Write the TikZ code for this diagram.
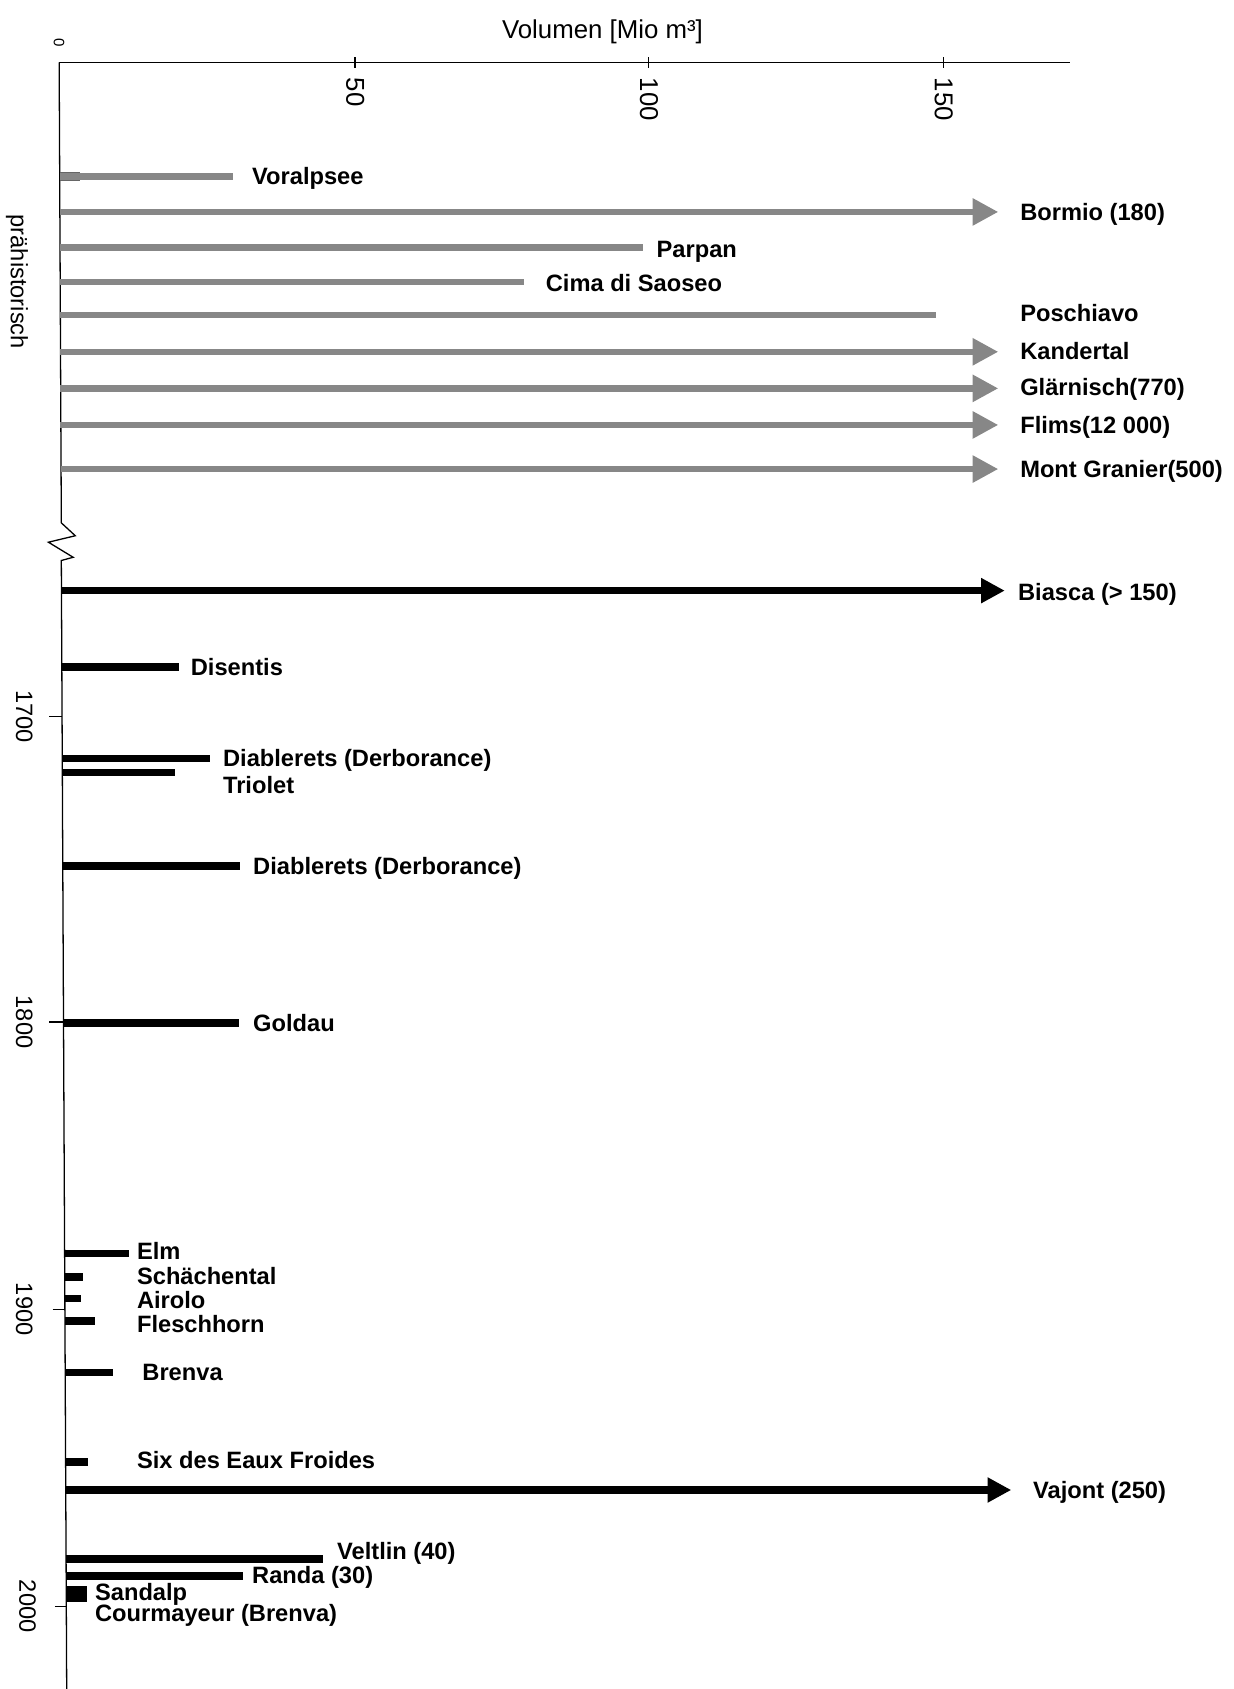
\documentclass[tikz,border=0pt]{standalone}
\usepackage{fontspec}
\setmainfont{Liberation Sans}
\usetikzlibrary{arrows.meta}

\tikzset{
  prebar/.style={draw=black!47, line width=3pt},
  histbar/.style={draw=black, line width=3.4pt},
  barhead/.style={-{Triangle[length=12pt,width=12pt]}},
  lbl/.style={anchor=west, inner sep=0pt, text height=7.9pt, text depth=0pt, font=\bfseries\fontsize{11}{13}\selectfont},
  ticklbl/.style={rotate=-90, anchor=west, inner sep=0pt, text height=8pt, text depth=0pt, font=\fontsize{12}{14}\selectfont},
  yearlbl/.style={rotate=-90, inner sep=0pt, text height=8pt, text depth=0pt, font=\fontsize{11}{13}\selectfont},
}

\begin{document}
\begin{tikzpicture}[x=0.5pt,y=-0.5pt]
                \useasboundingbox (0,0) rectangle (1147,1570);

                \coordinate (axtop) at (55,58);
                \coordinate (axend) at (995,58);
                \coordinate (axbot) at (62,1570);

                \draw[line width=0.6pt] (axtop) -- (axend);
                \draw[line width=0.6pt] (axtop) -- (57,486) -- (70,498) -- (45,504) -- (68,518) -- (57,521) -- (axbot);

                \node[font=\fontsize{12}{14}\selectfont] (title) at (560,30) {Volumen [Mio m³]};
                \node[rotate=-90, inner sep=0pt, font=\fontsize{7}{8}\selectfont] (t0) at (55,40) {0};
                \draw[line width=0.6pt] (330,53) -- (330,63);
                \node[ticklbl] (t50) at (330,72) {50};
                \draw[line width=0.6pt] (603,53) -- (603,63);
                \node[ticklbl] (t100) at (603,72) {100};
                \draw[line width=0.6pt] (877,53) -- (877,63);
                \node[ticklbl] (t150) at (877,72) {150};

                \node[yearlbl] (prae) at (18,262) {prähistorisch};
                \draw[line width=0.6pt] (46,666) -- (58,666);
                \node[yearlbl] (y1700) at (23,666) {1700};
                \draw[line width=0.6pt] (46,950) -- (59,950);
                \node[yearlbl] (y1800) at (23,950) {1800};
                \draw[line width=0.6pt] (49,1217) -- (60,1217);
                \node[yearlbl] (y1900) at (23,1217) {1900};
                \draw[line width=0.6pt] (51,1493) -- (61,1493);
                \node[yearlbl] (y2000) at (26,1493) {2000};

                \draw[draw=black!60, line width=4pt] (56,164) -- (74,164);
                \draw[prebar] (56,164) -- (217,164);
                \node[lbl] (voralpsee) at (234,164) {Voralpsee};
                \draw[prebar, barhead] (56,197) -- (928,197);
                \node[lbl] (bormio) at (948,197) {Bormio (180)};
                \draw[prebar] (56,230) -- (598,230);
                \node[lbl] (parpan) at (610,231) {Parpan};
                \draw[prebar] (56,262) -- (487,262);
                \node[lbl] (saoseo) at (507,263) {Cima di Saoseo};
                \draw[prebar] (56,293) -- (870,293);
                \node[lbl] (poschiavo) at (948,291) {Poschiavo};
                \draw[prebar, barhead] (56,327) -- (928,327);
                \node[lbl] (kandertal) at (948,326) {Kandertal};
                \draw[prebar, barhead] (56,361) -- (928,361);
                \node[lbl] (glaernisch) at (948,360) {Glärnisch(770)};
                \draw[prebar, barhead] (56,395) -- (928,395);
                \node[lbl] (flims) at (948,395) {Flims(12 000)};
                \draw[prebar, barhead] (57,436) -- (928,436);
                \node[lbl] (granier) at (948,436) {Mont Granier(500)};

                \draw[histbar, -{Triangle[length=11pt,width=11pt]}] (57,549) -- (934,549);
                \node[lbl] (biasca) at (946,550) {Biasca (> 150)};
                \draw[histbar] (58,620) -- (166,620);
                \node[lbl] (disentis) at (177,620) {Disentis};
                \draw[histbar] (58,705) -- (195,705);
                \node[lbl] (diablerets) at (207,705) {Diablerets (Derborance)};
                \draw[histbar] (58,718) -- (163,718);
                \node[lbl] (triolet) at (207,730) {Triolet};
                \draw[histbar] (58,805) -- (223,805);
                \node[lbl] (derborance) at (235,805) {Diablerets (Derborance)};
                \draw[histbar] (59,951) -- (222,951);
                \node[lbl] (goldau) at (235,951) {Goldau};

                \draw[histbar] (60,1165) -- (120,1165);
                \node[lbl] (elm) at (127,1163) {Elm};
                \draw[histbar] (60,1187) -- (77,1187);
                \node[lbl] (schaechental) at (127,1186) {Schächental};
                \draw[histbar] (60,1207) -- (75,1207);
                \node[lbl] (airolo) at (127,1208) {Airolo};
                \draw[histbar] (60,1228) -- (88,1228);
                \node[lbl] (fleschhorn) at (127,1231) {Fleschhorn};
                \draw[histbar] (61,1276) -- (105,1276);
                \node[lbl] (brenva) at (132,1275) {Brenva};
                \draw[histbar] (61,1359) -- (82,1359);
                \node[lbl] (eauxfroides) at (127,1357) {Six des Eaux Froides};
                \draw[histbar, -{Triangle[length=11pt,width=11pt]}] (61,1385) -- (940,1385);
                \node[lbl] (vajont) at (960,1385) {Vajont (250)};
                \draw[histbar] (61,1449) -- (300,1449);
                \node[lbl] (veltlin) at (313,1442) {Veltlin (40)};
                \draw[histbar] (61,1465) -- (226,1465);
                \node[lbl] (randa) at (234,1464) {Randa (30)};
                \fill (62,1474) rectangle (81,1489);
                \node[lbl] (sandalp) at (88,1480) {Sandalp};
                \node[lbl] (courmayeur) at (88,1499) {Courmayeur (Brenva)};
            \end{tikzpicture}
\end{document}
